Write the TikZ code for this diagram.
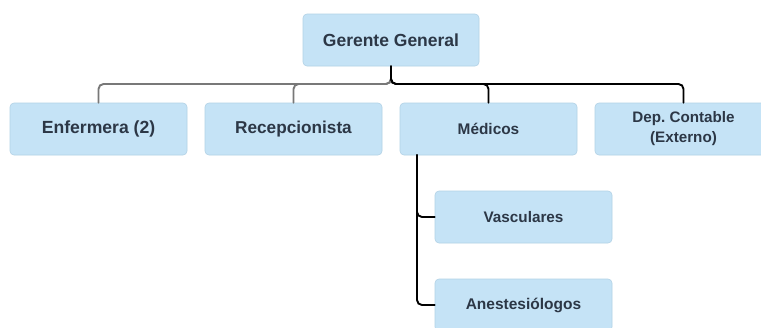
\documentclass[tikz,border=0pt]{standalone}
\usepackage{fontspec}
\setmainfont{Liberation Sans}
\definecolor{boxfill}{RGB}{197,227,246}
\definecolor{boxline}{RGB}{178,210,230}
\definecolor{txt}{RGB}{44,55,70}
\definecolor{grayline}{RGB}{120,120,120}
\frenchspacing
\begin{document}
\begin{tikzpicture}[x=1pt,y=-1pt,
  orgbox/.style={draw=boxline, line width=0.6pt, fill=boxfill, rounded corners=4pt,
    minimum width=177pt, minimum height=52pt, inner sep=0pt, text=txt, align=center},
  fs/.style={font=\bfseries\fontsize{#1}{20}\selectfont},
  link/.style={line width=1.9pt, rounded corners=5pt, line cap=round}]
\useasboundingbox (0,0) rectangle (761,327);
\clip (0,0) rectangle (761,327);
\fill[white] (0,0) rectangle (761,327);
\node[orgbox, fs=17.5, minimum width=176pt] (gg) at (391,40) {Gerente General};
\node[orgbox, fs=17.6] (enf) at (98.5,129) {Enfermera (2)};
\node[orgbox, fs=17.2] (rec) at (293.5,129) {Recepcionista};
\node[orgbox, fs=15.4] (med) at (488.5,129) {Médicos};
\node[orgbox, fs=15.2] (dep) at (683.5,129) {Dep.\ Contable\\(Externo)};
\node[orgbox, fs=15.3] (vas) at (523.5,217) {Vasculares};
\node[orgbox, fs=15.5] (ane) at (523.5,305) {Anestesiólogos};
\coordinate (bus) at (391,84);
\coordinate (tr) at (417,155);
\draw[link, grayline] (gg.south) |- (enf.north |- bus) -- (enf.north);
\draw[link, grayline] (gg.south) |- (rec.north |- bus) -- (rec.north);
\draw[link, black] (gg.south) |- (med.north |- bus) -- (med.north);
\draw[link, black] (gg.south) |- (dep.north |- bus) -- (dep.north);
\draw[link, black] (tr) |- (vas.west);
\draw[link, black] (tr) |- (ane.west);
\end{tikzpicture}
\end{document}
